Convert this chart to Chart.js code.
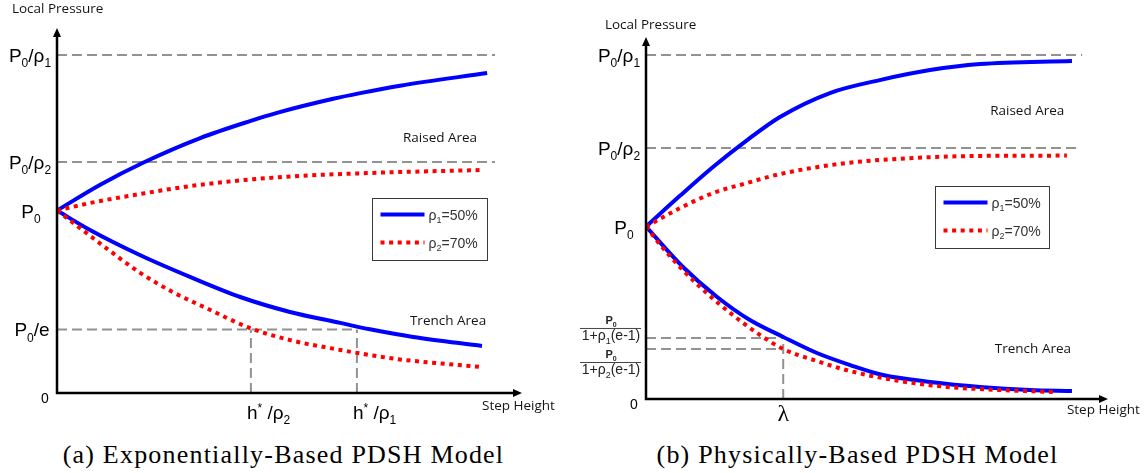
<!DOCTYPE html>
<html>
<head>
<meta charset="utf-8">
<script src="https://cdn.jsdelivr.net/npm/chart.js@4/dist/chart.umd.min.js"></script>
<style>
  html, body { margin: 0; padding: 0; background: #fff; }
  body { width: 1146px; height: 473px; position: relative; overflow: hidden; }
  canvas { position: absolute; top: 0; }
  #panelA { left: 0; }
  #panelB { left: 573px; }
  .cap {
    position: absolute; top: 440px; width: 573px; line-height: 30px;
    text-align: center; color: #000;
    font-family: "Liberation Serif", "DejaVu Serif", serif; font-size: 26px;
    letter-spacing: 1.2px;
  }
</style>
</head>
<body>
<canvas id="panelA" width="573" height="440"></canvas>
<canvas id="panelB" width="573" height="440"></canvas>
<div class="cap" style="left:-3px">(a) Exponentially-Based PDSH Model</div>
<div class="cap" style="left:571px">(b) Physically-Based PDSH Model</div>
<script>
// ---------- (a) exponentially-based model ----------
const A_X_MAX = 10, A_Y_MAX = 2;
const A_P0_RHO1 = 1.852, A_P0_RHO2 = 1.266, A_P0 = 1, A_P0_E = 0.348;
const A_H_RHO2 = 4.17, A_H_RHO1 = 6.45, A_REF_END = 9.42;

const aRaised50X = [0, 0.92, 1.85, 3.08, 4.15, 4.73, 5.94, 6.52, 7.38, 9.25];
const aRaised50Y = [1.0, 1.140, 1.262, 1.397, 1.490, 1.535, 1.612, 1.643, 1.684, 1.753];
const aRaised70X = [0, 0.71, 1.78, 3.05, 4.86, 6.67, 9.14];
const aRaised70Y = [1.0, 1.041, 1.090, 1.140, 1.184, 1.205, 1.222];
const aTrench50X = [0, 0.71, 1.78, 2.86, 3.94, 5.01, 6.09, 6.73, 7.66, 9.14];
const aTrench50Y = [1.0, 0.893, 0.756, 0.636, 0.526, 0.444, 0.384, 0.349, 0.307, 0.258];
const aTrench70X = [0, 0.49, 1.08, 1.78, 2.49, 3.23, 4.15, 5.01, 6.09, 6.73, 7.31, 9.14];
const aTrench70Y = [1.0, 0.905, 0.790, 0.660, 0.553, 0.463, 0.356, 0.290, 0.236, 0.208, 0.186, 0.142];

// ---------- (b) physically-based model ----------
const B_X_MAX = 10, B_Y_MAX = 2.1;
const B_P0_RHO1 = 1.995, B_P0_RHO2 = 1.456, B_P0 = 1, B_FRAC1 = 0.354, B_FRAC2 = 0.290;
const B_LAMBDA = 2.97, B_REF1_END = 9.44, B_REF2_END = 9.35;

const bRaised50X = [0, 0.74, 1.45, 2.19, 2.90, 3.98, 5.06, 6.15, 7.23, 9.22];
const bRaised50Y = [1.0, 1.180, 1.346, 1.502, 1.636, 1.775, 1.850, 1.908, 1.943, 1.961];
const bRaised70X = [0, 0.74, 1.45, 2.19, 2.90, 4.35, 5.78, 7.23, 9.11];
const bRaised70Y = [1.0, 1.108, 1.195, 1.253, 1.305, 1.369, 1.398, 1.410, 1.412];
const bTrench50X = [0, 0.80, 1.54, 2.25, 2.97, 3.70, 4.42, 5.13, 6.15, 7.23, 8.31, 9.22];
const bTrench50Y = [1.0, 0.766, 0.592, 0.458, 0.360, 0.267, 0.197, 0.139, 0.099, 0.070, 0.052, 0.046];
const bTrench70X = [0, 0.45, 1.17, 1.88, 2.47, 2.97, 3.70, 4.42, 5.50, 6.52, 7.66, 8.81];
const bTrench70Y = [1.0, 0.849, 0.650, 0.487, 0.371, 0.290, 0.220, 0.162, 0.104, 0.070, 0.052, 0.041];

const seriesLabels = ['ρ_1=50%', 'ρ_2=70%'];

const BLUE = '#0000ff', RED = '#ff0000', REF_GRAY = '#929292';
const SANS = '"Liberation Sans", Arial, sans-serif';
const NOTE = '"Open Sans", "DejaVu Sans", sans-serif';
const SERIF = '"Liberation Serif", "DejaVu Serif", serif';

// text with _x subscripts and ^x superscripts
function parseRich(s) {
  const out = []; let buf = '';
  for (let i = 0; i < s.length; i++) {
    const c = s[i];
    if ((c === '_' || c === '^') && i + 1 < s.length) {
      if (buf) { out.push({ t: buf, m: 'n' }); buf = ''; }
      out.push({ t: s[i + 1], m: c === '_' ? 'sub' : 'sup' }); i++;
    } else buf += c;
  }
  if (buf) out.push({ t: buf, m: 'n' });
  return out;
}
function drawRich(ctx, s, x, y, size, align, family, color, weight) {
  const parts = parseRich(s);
  const fontOf = m => `${weight || 'normal'} ${m === 'n' ? size : Math.round(size * 0.64)}px ${family}`;
  ctx.save();
  ctx.textBaseline = 'alphabetic'; ctx.textAlign = 'left'; ctx.fillStyle = color || '#000';
  let w = 0;
  parts.forEach(p => { ctx.font = fontOf(p.m); p.w = ctx.measureText(p.t).width; w += p.w; });
  let cx = align === 'center' ? x - w / 2 : align === 'right' ? x - w : x;
  parts.forEach(p => {
    ctx.font = fontOf(p.m);
    const dy = p.m === 'sub' ? size * 0.28 : p.m === 'sup' ? -size * 0.38 : 0;
    ctx.fillText(p.t, cx, y + dy); cx += p.w;
  });
  ctx.restore();
  return w;
}

function curve(xs, ys, color, dotted, label) {
  return {
    label, data: xs.map((x, i) => ({ x, y: ys[i] })),
    borderColor: color, borderWidth: 4, borderDash: dotted ? [4, 4.6] : [],
    borderCapStyle: 'butt', borderJoinStyle: 'round',
    pointRadius: 0, showLine: true, fill: false,
    cubicInterpolationMode: 'monotone'
  };
}
function refLine(pts) {
  return {
    label: '', data: pts.map(([x, y]) => ({ x, y })),
    borderColor: REF_GRAY, borderWidth: 2, borderDash: [10, 5],
    pointRadius: 0, showLine: true, fill: false, tension: 0
  };
}

function makePanel(canvasId, p) {
  const decor = {
    id: 'decor_' + canvasId,
    afterDraw(chart) {
      const ctx = chart.ctx, xs = chart.scales.x, ys = chart.scales.y;
      const X = v => xs.getPixelForValue(v), Y = v => ys.getPixelForValue(v);
      const ox = X(0), oy = Y(0), tx = X(p.xMax), ty = Y(p.yMax);

      // axes with arrow heads
      ctx.save();
      ctx.strokeStyle = '#000'; ctx.fillStyle = '#000'; ctx.lineWidth = 2.5;
      ctx.beginPath();
      ctx.moveTo(ox, oy + 1.2); ctx.lineTo(ox, ty + 6);
      ctx.moveTo(ox - 1.2, oy); ctx.lineTo(tx - 6, oy);
      ctx.stroke();
      ctx.beginPath(); ctx.moveTo(ox, ty); ctx.lineTo(ox - 4, ty + 9); ctx.lineTo(ox + 4, ty + 9); ctx.closePath(); ctx.fill();
      ctx.beginPath(); ctx.moveTo(tx, oy); ctx.lineTo(tx - 9, oy - 4); ctx.lineTo(tx - 9, oy + 4); ctx.closePath(); ctx.fill();
      ctx.restore();

      // value labels on the pressure axis
      p.yLabels.forEach(l => drawRich(ctx, l.s, ox - 27 + (l.dx || 0), Y(l.v) + 7, 19, 'center', SANS, '#000'));
      (p.fracLabels || []).forEach(f => {
        const bar = Y(f.v) + f.off, cx = ox - 35;
        ctx.save(); ctx.strokeStyle = '#444'; ctx.lineWidth = 1;
        ctx.beginPath(); ctx.moveTo(cx - 31, bar + 0.5); ctx.lineTo(cx + 30, bar + 0.5); ctx.stroke(); ctx.restore();
        drawRich(ctx, 'P_0', cx, bar - 4, 11, 'center', SANS, '#222', 'bold');
        drawRich(ctx, f.den, cx, bar + 12, 14, 'center', SANS, '#222');
      });
      drawRich(ctx, '0', ox - 12, oy + 10, 14, 'center', SANS, '#000');

      // labels on the step-height axis
      p.xLabels.forEach(l => drawRich(ctx, l.s, X(l.v) + (l.dx || 0), oy + l.dy, l.size, l.align, l.family, '#000'));

      // axis titles and area notes
      ctx.save();
      ctx.font = `13.5px ${NOTE}`; ctx.fillStyle = '#141414'; ctx.textBaseline = 'middle'; ctx.textAlign = 'left';
      p.notes.forEach(n => ctx.fillText(n.s, X(n.x), Y(n.y)));
      ctx.restore();

      // legend box
      const lx = Math.round(X(p.legend.x)) + 0.5, ly = Math.round(Y(p.legend.y)) + 0.5;
      ctx.save();
      ctx.fillStyle = '#fff'; ctx.fillRect(lx, ly, p.legend.w, p.legend.h);
      ctx.strokeStyle = '#3a3a3a'; ctx.lineWidth = 1; ctx.strokeRect(lx, ly, p.legend.w, p.legend.h);
      ctx.restore();
      p.legendItems.forEach((idx, k) => {
        const ds = chart.data.datasets[idx];
        const yy = ly + 16 + k * 28;
        ctx.save();
        ctx.strokeStyle = ds.borderColor; ctx.lineWidth = ds.borderWidth; ctx.setLineDash(ds.borderDash || []);
        ctx.lineCap = 'butt';
        ctx.beginPath(); ctx.moveTo(lx + 8, yy); ctx.lineTo(lx + 52, yy); ctx.stroke();
        ctx.restore();
        drawRich(ctx, ds.label, lx + 56, yy + 5, 14, 'left', SANS, '#333');
      });
    }
  };

  return new Chart(document.getElementById(canvasId), {
    type: 'scatter',
    data: { datasets: p.datasets },
    options: {
      responsive: false, animation: false, devicePixelRatio: 1,
      layout: { padding: p.padding },
      scales: {
        x: { type: 'linear', min: 0, max: p.xMax, display: false },
        y: { type: 'linear', min: 0, max: p.yMax, display: false }
      },
      plugins: { legend: { display: false }, tooltip: { enabled: false } },
      events: []
    },
    plugins: [decor]
  });
}

makePanel('panelA', {
  xMax: A_X_MAX, yMax: A_Y_MAX,
  padding: { left: 57, right: 51, top: 28, bottom: 47 },
  datasets: [
    curve(aRaised70X, aRaised70Y, RED, true, seriesLabels[1]),
    curve(aTrench70X, aTrench70Y, RED, true, seriesLabels[1]),
    curve(aRaised50X, aRaised50Y, BLUE, false, seriesLabels[0]),
    curve(aTrench50X, aTrench50Y, BLUE, false, seriesLabels[0]),
    refLine([[0, A_P0_RHO1], [A_REF_END, A_P0_RHO1]]),
    refLine([[0, A_P0_RHO2], [A_REF_END, A_P0_RHO2]]),
    refLine([[0, A_P0_E], [A_H_RHO1, A_P0_E]]),
    refLine([[A_H_RHO2, 0], [A_H_RHO2, A_P0_E]]),
    refLine([[A_H_RHO1, 0], [A_H_RHO1, A_P0_E]])
  ],
  yLabels: [
    { v: A_P0_RHO1, s: 'P_0/ρ_1' },
    { v: A_P0_RHO2, s: 'P_0/ρ_2' },
    { v: A_P0, s: 'P_0', dx: 1 },
    { v: A_P0_E, s: 'P_0/e', dx: 2 }
  ],
  xLabels: [
    { v: A_H_RHO2, s: 'h^* /ρ_2', dx: -4, dy: 26, size: 19, align: 'left', family: SANS },
    { v: A_H_RHO1, s: 'h^* /ρ_1', dx: -4, dy: 26, size: 19, align: 'left', family: SANS }
  ],
  notes: [
    { s: 'Local Pressure', x: -0.97, y: 2.104 },
    { s: 'Raised Area', x: 7.44, y: 1.397 },
    { s: 'Trench Area', x: 7.59, y: 0.395 },
    { s: 'Step Height', x: 9.14, y: -0.071 }
  ],
  legend: { x: 6.77, y: 1.068, w: 115, h: 62 },
  legendItems: [2, 0]
});

makePanel('panelB', {
  xMax: B_X_MAX, yMax: B_Y_MAX,
  padding: { left: 73, right: 38, top: 37, bottom: 41 },
  datasets: [
    curve(bRaised70X, bRaised70Y, RED, true, seriesLabels[1]),
    curve(bTrench70X, bTrench70Y, RED, true, seriesLabels[1]),
    curve(bRaised50X, bRaised50Y, BLUE, false, seriesLabels[0]),
    curve(bTrench50X, bTrench50Y, BLUE, false, seriesLabels[0]),
    refLine([[0, B_P0_RHO1], [B_REF1_END, B_P0_RHO1]]),
    refLine([[0, B_P0_RHO2], [B_REF2_END, B_P0_RHO2]]),
    refLine([[0, B_FRAC1], [B_LAMBDA, B_FRAC1]]),
    refLine([[0, B_FRAC2], [B_LAMBDA, B_FRAC2]]),
    refLine([[B_LAMBDA, 0], [B_LAMBDA, B_FRAC1]])
  ],
  yLabels: [
    { v: B_P0_RHO1, s: 'P_0/ρ_1' },
    { v: B_P0_RHO2, s: 'P_0/ρ_2' },
    { v: B_P0, s: 'P_0', dx: 5 }
  ],
  fracLabels: [
    { v: B_FRAC1, den: '1+ρ_1(e-1)', off: -10 },
    { v: B_FRAC2, den: '1+ρ_2(e-1)', off: 13 }
  ],
  xLabels: [
    { v: B_LAMBDA, s: 'λ', dx: 0, dy: 22, size: 24, align: 'center', family: SERIF }
  ],
  notes: [
    { s: 'Local Pressure', x: -0.89, y: 2.169 },
    { s: 'Raised Area', x: 7.45, y: 1.671 },
    { s: 'Trench Area', x: 7.55, y: 0.290 },
    { s: 'Step Height', x: 9.11, y: -0.064 }
  ],
  legend: { x: 6.26, y: 1.235, w: 114, h: 62 },
  legendItems: [2, 0]
});
</script>
</body>
</html>
